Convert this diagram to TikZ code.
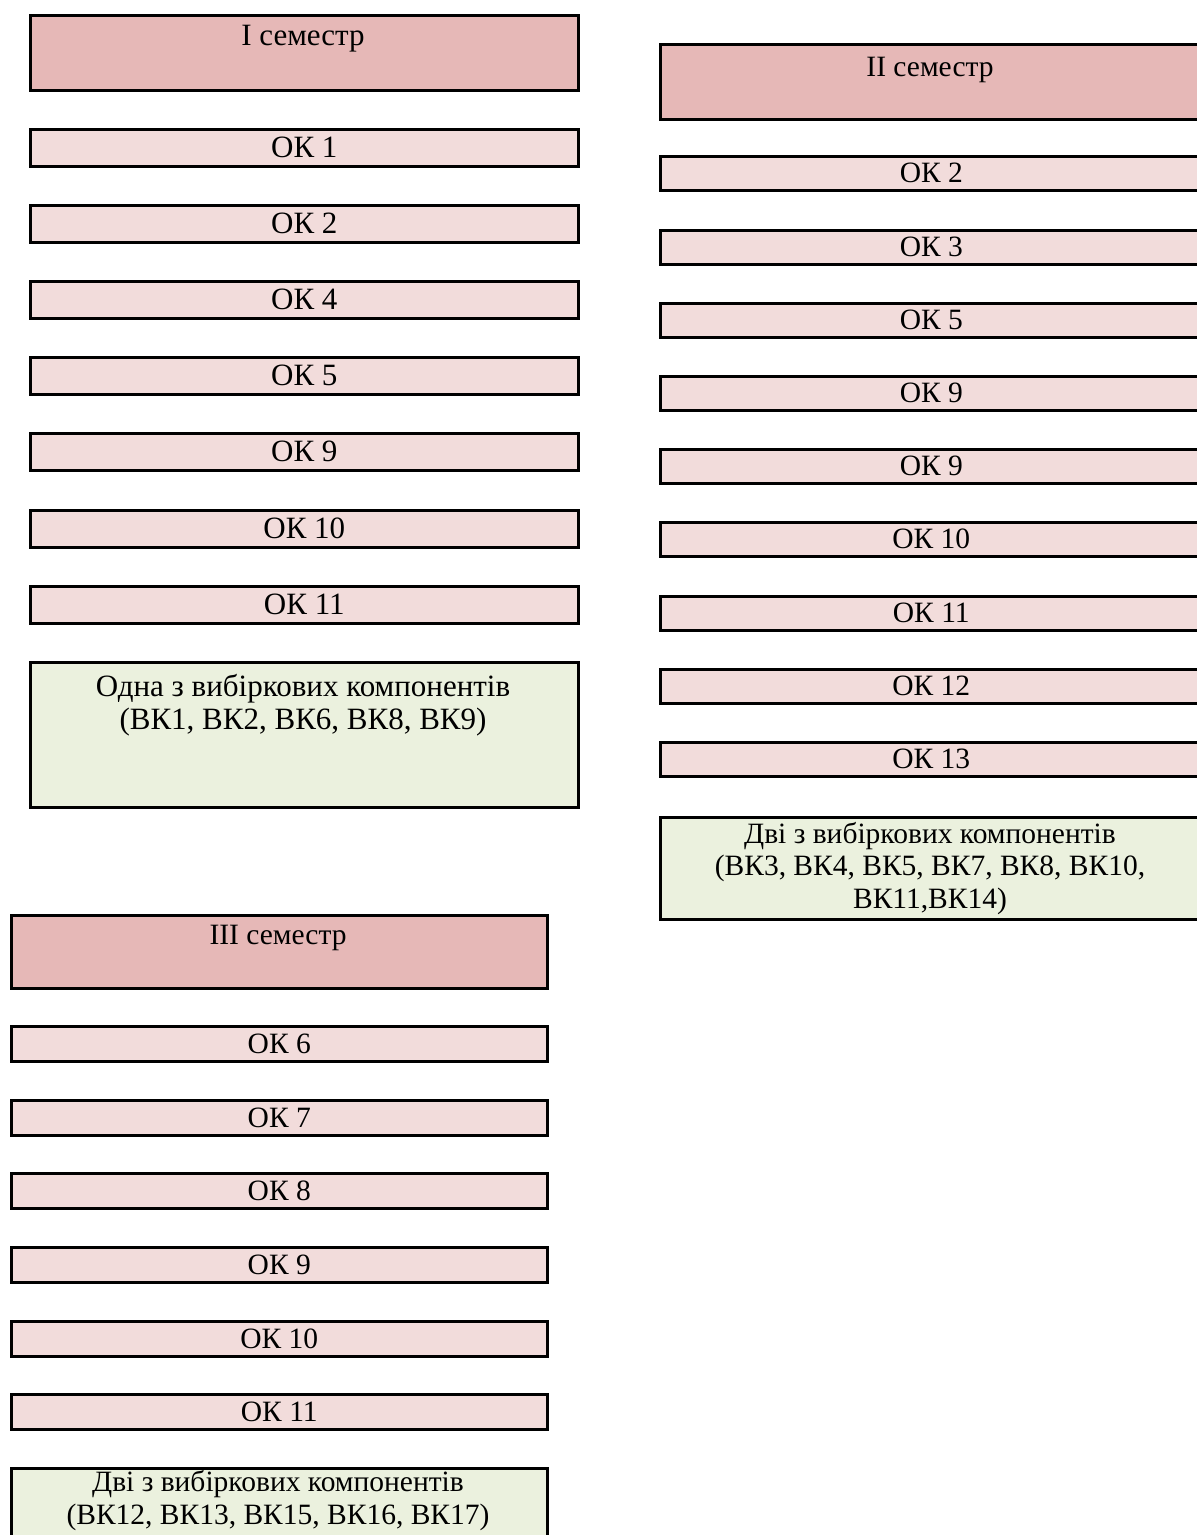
\documentclass[tikz,border=0pt]{standalone}
\usepackage{fontspec}
\setmainfont{Liberation Serif}
\definecolor{semfill}{HTML}{E6B8B7}
\definecolor{okfill}{HTML}{F2DCDB}
\definecolor{vkfill}{HTML}{EBF1DE}
\tikzset{
  boxbase/.style={draw=black, line width=2.6pt, rectangle, inner sep=0pt, anchor=north west},
  sembox/.style={boxbase, fill=semfill},
  okbox/.style={boxbase, fill=okfill},
  vkbox/.style={boxbase, fill=vkfill},
  fa/.style={font=\fontsize{31}{33}\selectfont},
  fb/.style={font=\fontsize{29.5}{32.5}\selectfont},
  fc/.style={font=\fontsize{29.5}{33}\selectfont},
  lbl/.style={inner sep=0pt, align=center},
}
\begin{document}
\begin{tikzpicture}[x=1pt,y=-1pt]
\useasboundingbox (0,0) rectangle (1197,1535);
\clip (0,0) rectangle (1197,1535);
% column 1
\begin{scope}[every node/.append style={fa}]
\node[sembox, minimum width=548, minimum height=75] (sem1) at (29,14) {};
\node[lbl, anchor=base] (sem1t) at (303,45) {I семестр};
\foreach \t/\y [count=\i] in {ОК 1/128, ОК 2/204, ОК 4/280, ОК 5/356, ОК 9/432, ОК 10/509, ОК 11/585}
  \node[okbox, minimum width=548, minimum height=37] (c1ok\i) at (29,\y) {\t};
\node[vkbox, minimum width=548, minimum height=145] (vk1) at (29,661) {};
\node[lbl, anchor=north] (vk1t) at (303,674) {Одна з вибіркових компонентів\\(ВК1, ВК2, ВК6, ВК8, ВК9)};
\end{scope}
% column 2
\begin{scope}[every node/.append style={fb}]
\node[sembox, minimum width=542, minimum height=75] (sem2) at (659,43) {};
\node[lbl, anchor=base] (sem2t) at (930,76.5) {II семестр};
\foreach \t/\y [count=\i] in {ОК 2/155, ОК 3/229, ОК 5/302, ОК 9/375, ОК 9/448, ОК 10/521, ОК 11/595, ОК 12/668, ОК 13/741}
  \node[okbox, minimum width=542, minimum height=34] (c2ok\i) at (659,\y) {\t};
\node[vkbox, minimum width=542, minimum height=102] (vk2) at (659,816) {};
\node[lbl, anchor=north] (vk2t) at (930,822) {Дві з вибіркових компонентів\\(ВК3, ВК4, ВК5, ВК7, ВК8, ВК10,\\ВК11,ВК14)};
\end{scope}
% column 3
\begin{scope}[every node/.append style={fc}]
\node[sembox, minimum width=536, minimum height=73] (sem3) at (10,914) {};
\node[lbl, anchor=base] (sem3t) at (278,944.5) {III семестр};
\foreach \t/\y [count=\i] in {ОК 6/1025, ОК 7/1099, ОК 8/1172, ОК 9/1246, ОК 10/1320, ОК 11/1393}
  \node[okbox, minimum width=536, minimum height=35] (c3ok\i) at (10,\y) {\t};
\node[vkbox, minimum width=536, minimum height=90] (vk3) at (10,1467) {};
\node[lbl, anchor=north] (vk3t) at (278,1470) {Дві з вибіркових компонентів\\(ВК12, ВК13, ВК15, ВК16, ВК17)};
\end{scope}
\end{tikzpicture}
\end{document}
